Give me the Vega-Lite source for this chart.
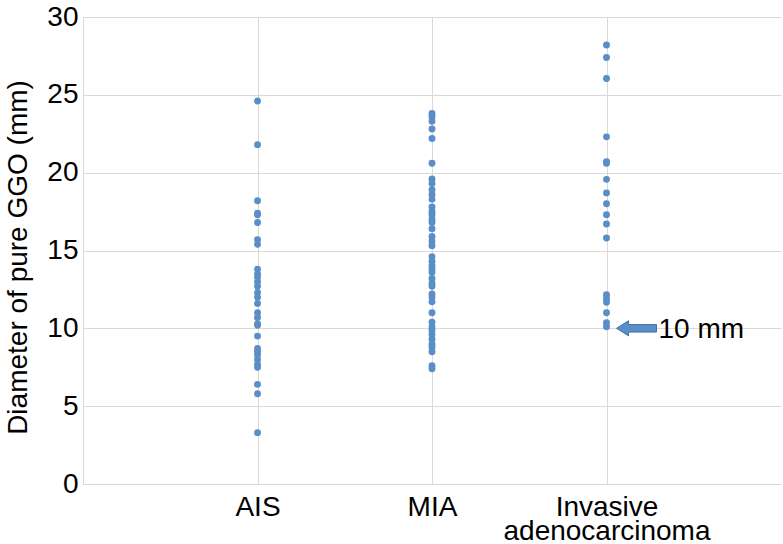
{
  "$schema": "https://vega.github.io/schema/vega-lite/v6.json",
  "width": 698,
  "height": 467,
  "autosize": {"type": "none"},
  "padding": {"left": 83, "top": 17, "right": 2, "bottom": 60},
  "background": "white",
  "config": {
    "view": {"stroke": null},
    "font": "Liberation Sans",
    "axis": {
      "gridColor": "#d9d9d9",
      "domainColor": "#d9d9d9",
      "ticks": false,
      "labelFont": "Liberation Sans",
      "labelFontSize": 28,
      "labelColor": "#000000",
      "titleFont": "Liberation Sans",
      "titleFontSize": 28,
      "titleFontWeight": "normal",
      "titleColor": "#000000"
    }
  },
  "datasets": {
    "pts": [
      {"group": "AIS", "value": 24.6}, {"group": "AIS", "value": 21.8}, {"group": "AIS", "value": 18.2}, {"group": "AIS", "value": 17.4}, {"group": "AIS", "value": 17.3}, {"group": "AIS", "value": 16.8}, {"group": "AIS", "value": 15.7}, {"group": "AIS", "value": 15.4}, {"group": "AIS", "value": 13.8}, {"group": "AIS", "value": 13.5}, {"group": "AIS", "value": 13.3}, {"group": "AIS", "value": 13.0}, {"group": "AIS", "value": 12.7}, {"group": "AIS", "value": 12.3}, {"group": "AIS", "value": 12.0}, {"group": "AIS", "value": 11.6}, {"group": "AIS", "value": 11.0}, {"group": "AIS", "value": 10.7}, {"group": "AIS", "value": 10.3}, {"group": "AIS", "value": 10.2}, {"group": "AIS", "value": 9.5}, {"group": "AIS", "value": 8.7}, {"group": "AIS", "value": 8.5}, {"group": "AIS", "value": 8.3}, {"group": "AIS", "value": 8.0}, {"group": "AIS", "value": 7.7}, {"group": "AIS", "value": 7.5}, {"group": "AIS", "value": 6.4}, {"group": "AIS", "value": 5.8}, {"group": "AIS", "value": 3.3},
      {"group": "MIA", "value": 23.8}, {"group": "MIA", "value": 23.6}, {"group": "MIA", "value": 23.3}, {"group": "MIA", "value": 22.8}, {"group": "MIA", "value": 22.2}, {"group": "MIA", "value": 20.6}, {"group": "MIA", "value": 19.6}, {"group": "MIA", "value": 19.3}, {"group": "MIA", "value": 18.9}, {"group": "MIA", "value": 18.6}, {"group": "MIA", "value": 18.3}, {"group": "MIA", "value": 17.8}, {"group": "MIA", "value": 17.5}, {"group": "MIA", "value": 17.3}, {"group": "MIA", "value": 17.0}, {"group": "MIA", "value": 16.8}, {"group": "MIA", "value": 16.4}, {"group": "MIA", "value": 15.9}, {"group": "MIA", "value": 15.6}, {"group": "MIA", "value": 15.3}, {"group": "MIA", "value": 14.6}, {"group": "MIA", "value": 14.3}, {"group": "MIA", "value": 14.0}, {"group": "MIA", "value": 13.8}, {"group": "MIA", "value": 13.6}, {"group": "MIA", "value": 13.2}, {"group": "MIA", "value": 12.9}, {"group": "MIA", "value": 12.7}, {"group": "MIA", "value": 12.2}, {"group": "MIA", "value": 12.0}, {"group": "MIA", "value": 11.7}, {"group": "MIA", "value": 11.0}, {"group": "MIA", "value": 10.4}, {"group": "MIA", "value": 10.1}, {"group": "MIA", "value": 9.9}, {"group": "MIA", "value": 9.6}, {"group": "MIA", "value": 9.3}, {"group": "MIA", "value": 9.0}, {"group": "MIA", "value": 8.8}, {"group": "MIA", "value": 8.5}, {"group": "MIA", "value": 7.6}, {"group": "MIA", "value": 7.4},
      {"group": "Invasive adenocarcinoma", "value": 28.2}, {"group": "Invasive adenocarcinoma", "value": 27.4}, {"group": "Invasive adenocarcinoma", "value": 26.05}, {"group": "Invasive adenocarcinoma", "value": 22.3}, {"group": "Invasive adenocarcinoma", "value": 20.7}, {"group": "Invasive adenocarcinoma", "value": 20.6}, {"group": "Invasive adenocarcinoma", "value": 19.57}, {"group": "Invasive adenocarcinoma", "value": 18.7}, {"group": "Invasive adenocarcinoma", "value": 18.0}, {"group": "Invasive adenocarcinoma", "value": 17.3}, {"group": "Invasive adenocarcinoma", "value": 16.7}, {"group": "Invasive adenocarcinoma", "value": 15.8}, {"group": "Invasive adenocarcinoma", "value": 12.16}, {"group": "Invasive adenocarcinoma", "value": 11.9}, {"group": "Invasive adenocarcinoma", "value": 11.67}, {"group": "Invasive adenocarcinoma", "value": 11.0}, {"group": "Invasive adenocarcinoma", "value": 10.36}, {"group": "Invasive adenocarcinoma", "value": 10.1}
    ],
    "note": [
      {"group": "Invasive adenocarcinoma", "value": 10, "label": "10 mm"}
    ]
  },
  "layer": [
    {
      "data": {"name": "pts"},
      "mark": {"type": "circle", "size": 48, "color": "#5a8ec6", "opacity": 1},
      "encoding": {
        "x": {
          "field": "group", "type": "nominal",
          "sort": ["AIS", "MIA", "Invasive adenocarcinoma"],
          "scale": {"type": "point", "padding": 1},
          "axis": {
            "title": null, "labelAngle": 0, "grid": true, "domain": true,
            "labelPadding": 9, "labelLineHeight": 24, "labelBaseline": "top", "labelLimit": 0,
            "labelExpr": "datum.value == 'Invasive adenocarcinoma' ? ['Invasive', 'adenocarcinoma'] : datum.value"
          }
        },
        "y": {
          "field": "value", "type": "quantitative",
          "scale": {"domain": [0, 30], "nice": false},
          "axis": {
            "title": "Diameter of pure GGO (mm)", "values": [0, 5, 10, 15, 20, 25, 30],
            "grid": true, "domain": true, "labelPadding": 5, "titlePadding": 14, "titleY": 240
          }
        }
      }
    },
    {
      "data": {"name": "note"},
      "mark": {
        "type": "point", "filled": true, "size": 10000,
        "shape": "M0.2,0 L0.44,-0.15 L0.44,-0.075 L1,-0.075 L1,0.075 L0.44,0.075 L0.44,0.15 Z",
        "fill": "#5a8ec6", "stroke": "#41719c", "strokeWidth": 1, "opacity": 1
      },
      "encoding": {
        "x": {"field": "group", "type": "nominal", "sort": ["AIS", "MIA", "Invasive adenocarcinoma"]},
        "y": {"field": "value", "type": "quantitative"}
      }
    },
    {
      "data": {"name": "note"},
      "mark": {"type": "text", "align": "left", "baseline": "middle", "dx": 52, "dy": 2, "fontSize": 28, "font": "Liberation Sans", "color": "#000000"},
      "encoding": {
        "x": {"field": "group", "type": "nominal", "sort": ["AIS", "MIA", "Invasive adenocarcinoma"]},
        "y": {"field": "value", "type": "quantitative"},
        "text": {"field": "label"}
      }
    }
  ]
}
